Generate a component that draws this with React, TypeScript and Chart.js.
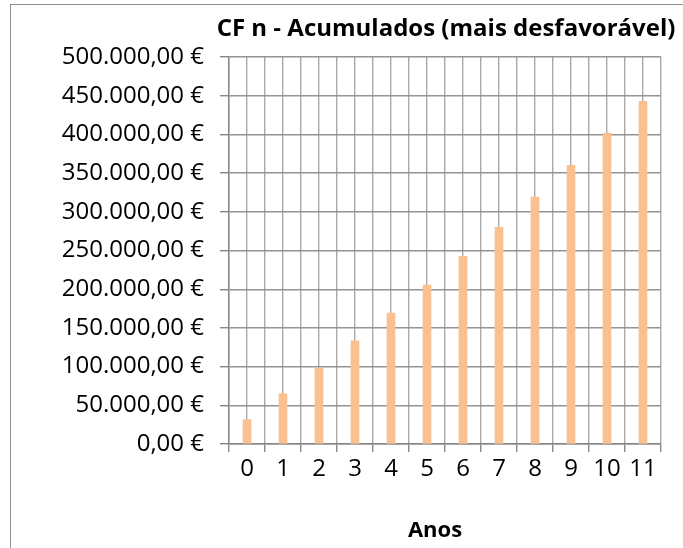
import React, { useEffect, useRef } from 'react';
import { Chart, registerables } from 'chart.js';

Chart.register(...registerables);

const years = [0, 1, 2, 3, 4, 5, 6, 7, 8, 9, 10, 11];
const cfAcumulados = [31500, 64900, 98200, 133300, 169000, 205300, 242500, 280000, 319000, 360200, 401300, 442700];
const yMin = 0;
const yMax = 500000;
const yStep = 50000;
const chartTitle = 'CF n - Acumulados (mais desfavorável)';
const xAxisTitle = 'Anos';

function formatEuro(v: number): string {
  const int = Math.round(v).toString().replace(/\B(?=(\d{3})+(?!\d))/g, '.');
  return `${int},00 €`;
}

const FONT = 'Open Sans';

// Titles placed as in the reference (chart title over the plot area, axis title slightly left)
const titlesPlugin = {
  id: 'titles',
  afterDraw(chart: any) {
    const { ctx, chartArea, height } = chart;
    const cx = (chartArea.left + chartArea.right) / 2;
    ctx.save();
    ctx.fillStyle = '#000';
    ctx.textAlign = 'center';
    ctx.textBaseline = 'middle';
    ctx.font = `bold 24px "${FONT}"`;
    ctx.fillText(chartTitle, cx + 1, 24);
    ctx.font = `bold 22px "${FONT}"`;
    ctx.fillText(xAxisTitle, cx - 10, height - 17);
    ctx.restore();
  },
};

export default function App() {
  const canvasRef = useRef<HTMLCanvasElement | null>(null);

  useEffect(() => {
    if (!canvasRef.current) return;
    const chart = new Chart(canvasRef.current, {
      type: 'bar',
      data: {
        datasets: [
          {
            data: years.map((x, i) => ({ x, y: cfAcumulados[i] })),
            backgroundColor: '#FAC090',
            borderWidth: 0,
            barThickness: 8,
          },
        ],
      },
      plugins: [titlesPlugin],
      options: {
        animation: false,
        responsive: false,
        maintainAspectRatio: false,
        layout: { padding: { left: 18, right: 19, top: 52, bottom: 61.2 } },
        plugins: {
          legend: { display: false },
          tooltip: { enabled: false },
          title: { display: false },
        },
        scales: {
          x: {
            type: 'linear',
            min: -0.5,
            max: 11.5,
            offset: false,
            ticks: {
              stepSize: 0.5,
              autoSkip: false,
              maxRotation: 0,
              color: '#000',
              font: { family: FONT, size: 24 },
              padding: 3,
              callback: (v: any) => (Number.isInteger(Number(v)) ? String(v) : ''),
            },
            grid: {
              offset: false,
              color: '#aaaaaa',
              lineWidth: 1.4,
              tickLength: 8,
              tickColor: (ctx: any) =>
                ctx.tick && Number.isInteger(ctx.tick.value) ? 'rgba(0,0,0,0)' : '#868686',
            },
            border: { color: '#868686', width: 1.4 },
            title: { display: false },
          },
          y: {
            min: yMin,
            max: yMax,
            ticks: {
              stepSize: yStep,
              color: '#000',
              font: { family: FONT, size: 24 },
              padding: 16,
              callback: (v: any) => formatEuro(Number(v)),
            },
            grid: { color: '#939393', lineWidth: 1.4, tickLength: 9, tickColor: '#868686' },
            border: { color: '#868686', width: 1.4 },
            afterFit: (s: any) => {
              s.width = 200;
            },
          },
        },
      } as any,
    });
    return () => chart.destroy();
  }, []);

  return (
    <div style={{ position: 'fixed', left: 0, top: 0, width: 683, height: 548, overflow: 'hidden', background: '#fff' }}>
      <div
        style={{
          position: 'absolute',
          left: 10,
          top: 4,
          width: 700,
          height: 600,
          border: '1px solid #8f8f8f',
          boxSizing: 'border-box',
        }}
      />
      <canvas ref={canvasRef} width={669} height={543} style={{ position: 'absolute', left: 11, top: 5 }} />
    </div>
  );
}
